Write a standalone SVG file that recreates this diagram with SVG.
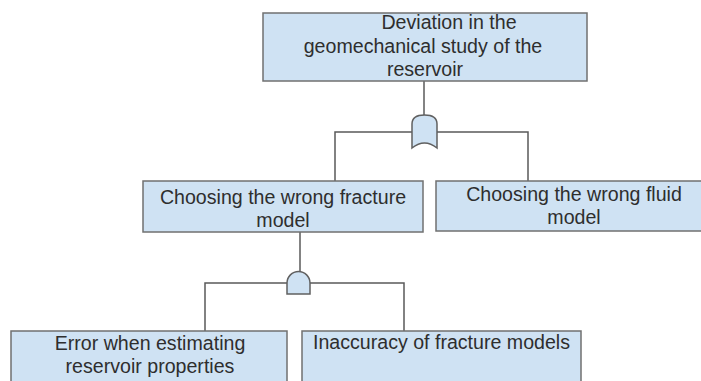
<svg xmlns="http://www.w3.org/2000/svg" width="701" height="381" viewBox="0 0 701 381">
<style>
.box{fill:#cfe2f3;stroke:#707070;stroke-width:1.5}
.gate{fill:#cfe2f3;stroke:#606060;stroke-width:1.5}
.t{font-family:"Liberation Sans",Arial,sans-serif;font-size:19.6px;fill:#2e2e2e;text-anchor:middle}
.c{fill:none;stroke:#5a5a5a;stroke-width:1.5}
</style>
<rect width="701" height="381" fill="#ffffff"/>
<g id="connectors">
<path class="c" d="M424,81 V116"/>
<path class="c" d="M412,132 H335 V181"/>
<path class="c" d="M437,132 H528 V181"/>
<path class="c" d="M300,232 V272"/>
<path class="c" d="M287,283 H205 V331"/>
<path class="c" d="M310,283 H404 V331"/>
</g>
<g id="gate-or">
<path class="gate" d="M412,148 L412,124 Q412,115 424.5,115 Q437,115 437,124 L437,148 Q424.5,138 412,148 Z"/>
</g>
<g id="gate-and">
<path class="gate" d="M287,294 L287,283 A11.5,11.5 0 0 1 310,283 L310,294 Z"/>
</g>
<g id="node-top">
<rect class="box" x="263" y="13" width="324" height="68"/>
<text class="t" x="449" y="29">Deviation in the</text>
<text class="t" x="423" y="53">geomechanical study of the</text>
<text class="t" x="425" y="76">reservoir</text>
</g>
<g id="node-fracture">
<rect class="box" x="143" y="181" width="280" height="51"/>
<text class="t" x="283" y="204">Choosing the wrong fracture</text>
<text class="t" x="283" y="227">model</text>
</g>
<g id="node-fluid">
<rect class="box" x="436" y="181" width="266" height="50"/>
<text class="t" x="574" y="201">Choosing the wrong fluid</text>
<text class="t" x="574" y="224">model</text>
</g>
<g id="node-error">
<rect class="box" x="11" y="331" width="276" height="60"/>
<text class="t" x="150" y="350">Error when estimating</text>
<text class="t" x="150" y="373">reservoir properties</text>
</g>
<g id="node-inaccuracy">
<rect class="box" x="302" y="331" width="279" height="60"/>
<text class="t" x="441.5" y="349">Inaccuracy of fracture models</text>
</g>
</svg>
